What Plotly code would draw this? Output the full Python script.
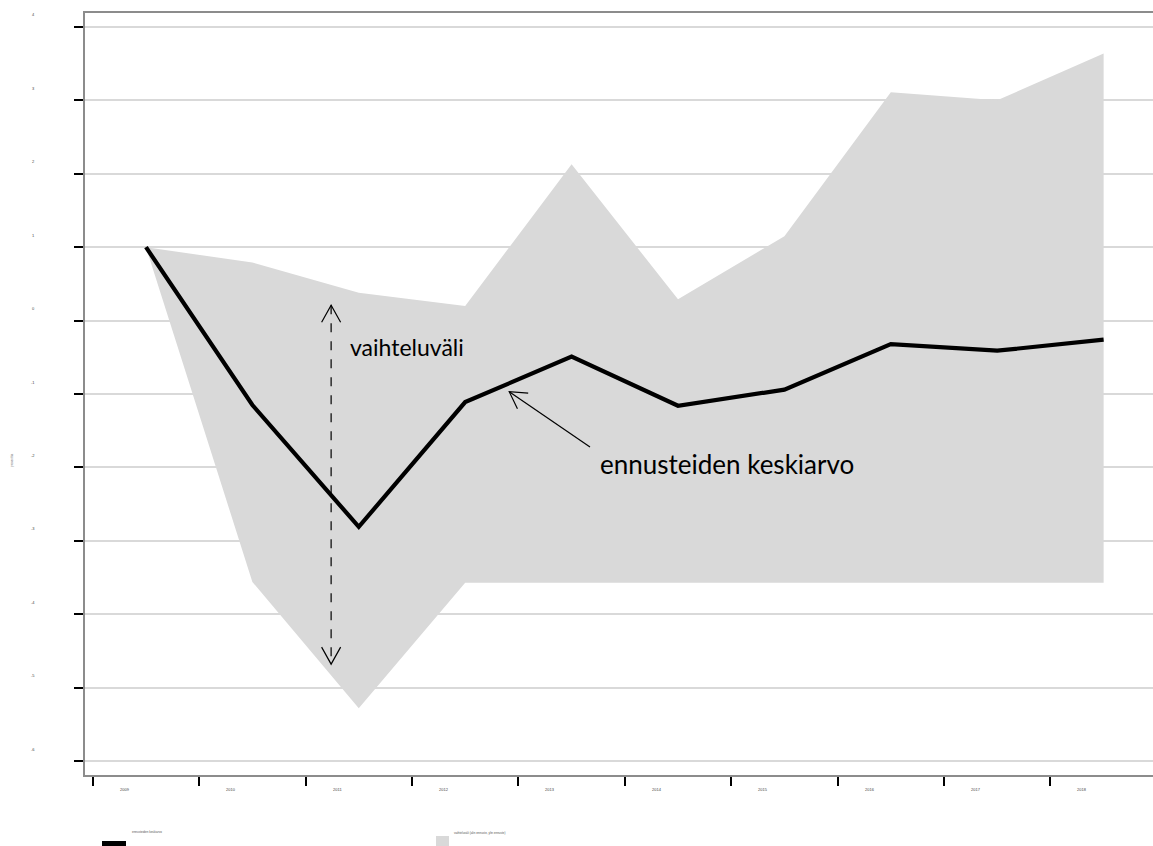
import math
import plotly.graph_objects as go

# ---- data ----
categories = ["2009", "2010", "2011", "2012", "2013", "2014", "2015", "2016", "2017", "2018"]
mean_forecast = [1.0, -1.15, -2.81, -1.11, -0.49, -1.16, -0.94, -0.32, -0.41, -0.26]
upper_forecast = [1.0, 0.79, 0.38, 0.20, 2.13, 0.29, 1.15, 3.11, 3.00, 3.64]
lower_forecast = [1.0, -3.56, -5.28, -3.57, -3.57, -3.57, -3.57, -3.57, -3.57, -3.57]
y_tick_values = [4, 3, 2, 1, 0, -1, -2, -3, -4, -5, -6]
y_tick_labels = ["4", "3", "2", "1", "0", "-1", "-2", "-3", "-4", "-5", "-6"]
y_title = "prosenttia"
legend_labels = ["ennusteiden keskiarvo", "vaihteluväli (alin ennuste, ylin ennuste)"]

# ---- layout geometry ----
W, H = 1153, 846
ML, MR, MT, MB = 85, 0, 13, 71
PW, PH = W - ML - MR, H - MT - MB
XR = [-0.573, 9.464]
YR = [-6.19, 4.19]
sx = PW / (XR[1] - XR[0])   # px per x unit
sy = PH / (YR[1] - YR[0])   # px per y unit

xs = list(range(len(categories)))
LABEL_FONT = "Lato"
TINY = dict(family="Liberation Sans", size=4, color="#444444")

fig = go.Figure()
fig.add_trace(go.Scatter(x=xs, y=lower_forecast, mode="lines",
                         line=dict(width=0, color="#d9d9d9"), showlegend=False,
                         hoverinfo="skip"))
fig.add_trace(go.Scatter(x=xs, y=upper_forecast, mode="lines", fill="tonexty",
                         fillcolor="#d9d9d9", line=dict(width=0, color="#d9d9d9"),
                         showlegend=False, name=legend_labels[1]))
fig.add_trace(go.Scatter(x=xs, y=mean_forecast, mode="lines",
                         line=dict(width=4.2, color="black"), showlegend=False,
                         name=legend_labels[0]))

shapes = []
annotations = []

# double-headed dashed arrow (range)
ax_x, ay_top, ay_bot = 1.74, 0.21, -4.68
shapes.append(dict(type="line", xref="x", yref="y", x0=ax_x, x1=ax_x, y0=ay_top, y1=ay_bot,
                   line=dict(color="black", width=1.2, dash="dash")))
dx_head = 9.5 / sx
dy_head = 17 / sy
shapes.append(dict(type="path", xref="x", yref="y",
                   path=f"M {ax_x-dx_head},{ay_top-dy_head} L {ax_x},{ay_top} L {ax_x+dx_head},{ay_top-dy_head}",
                   line=dict(color="black", width=1.2)))
shapes.append(dict(type="path", xref="x", yref="y",
                   path=f"M {ax_x-dx_head},{ay_bot+dy_head} L {ax_x},{ay_bot} L {ax_x+dx_head},{ay_bot+dy_head}",
                   line=dict(color="black", width=1.2)))

# single arrow to the mean line
tip = (3.414, -0.969)
tail = (4.173, -1.722)
shapes.append(dict(type="line", xref="x", yref="y", x0=tail[0], y0=tail[1], x1=tip[0], y1=tip[1],
                   line=dict(color="black", width=1.2)))
vx, vy = (tail[0] - tip[0]) * sx, -(tail[1] - tip[1]) * sy  # pixel vector tip->tail (screen y down)
ang = math.atan2(vy, vx)
arm = 19
pts = []
for da in (-math.radians(30), math.radians(30)):
    px = arm * math.cos(ang + da)
    py = arm * math.sin(ang + da)
    pts.append((tip[0] + px / sx, tip[1] - py / sy))
shapes.append(dict(type="path", xref="x", yref="y",
                   path=f"M {pts[0][0]},{pts[0][1]} L {tip[0]},{tip[1]} L {pts[1][0]},{pts[1][1]}",
                   line=dict(color="black", width=1.2)))

annotations.append(dict(x=1.898, y=-0.36, xref="x", yref="y", text="vaihteluväli",
                        showarrow=False, xanchor="left", yanchor="middle",
                        font=dict(family=LABEL_FONT, size=23, color="black")))
annotations.append(dict(x=4.248, y=-1.954, xref="x", yref="y", text="ennusteiden keskiarvo",
                        showarrow=False, xanchor="left", yanchor="middle",
                        font=dict(family=LABEL_FONT, size=26, color="black")))

# y tick labels (tiny, above each gridline)
for v, lab in zip(y_tick_values, y_tick_labels):
    annotations.append(dict(x=-52 / PW, y=v, xref="paper", yref="y", text=lab, showarrow=False,
                            xanchor="center", yanchor="middle", yshift=12, font=TINY))
# x tick labels (tiny)
for i, lab in enumerate(categories):
    annotations.append(dict(x=i - 0.2, y=0, xref="x", yref="paper", text=lab, showarrow=False,
                            xanchor="center", yanchor="middle", yshift=-14, font=TINY))
# y axis title
annotations.append(dict(x=-77 / PW, y=(775 - 460) / PH, xref="paper", yref="paper", text=y_title,
                        textangle=-90, showarrow=False,
                        font=dict(family="Liberation Sans", size=3, color="#777777")))


def pyp(p):
    return (H - MB - p) / PH


def pxp(p):
    return (p - ML) / PW


# legend
shapes.append(dict(type="rect", xref="paper", yref="paper", x0=pxp(102), x1=pxp(126),
                   y0=pyp(850), y1=pyp(841), fillcolor="black", line=dict(width=0)))
shapes.append(dict(type="rect", xref="paper", yref="paper", x0=pxp(436), x1=pxp(449),
                   y0=pyp(850), y1=pyp(836), fillcolor="#d9d9d9", line=dict(width=0)))
annotations.append(dict(x=pxp(130), y=pyp(832), xref="paper", yref="paper", text=legend_labels[0],
                        showarrow=False, xanchor="left", yanchor="middle",
                        font=dict(family="Liberation Sans", size=3, color="#555555")))
annotations.append(dict(x=pxp(452), y=pyp(833), xref="paper", yref="paper", text=legend_labels[1],
                        showarrow=False, xanchor="left", yanchor="middle",
                        font=dict(family="Liberation Sans", size=3, color="#555555")))

fig.update_layout(
    width=W, height=H,
    margin=dict(l=ML, r=MR, t=MT, b=MB),
    paper_bgcolor="white", plot_bgcolor="white",
    showlegend=False,
    shapes=shapes, annotations=annotations,
    xaxis=dict(range=XR, tickmode="array", tickvals=[i - 0.5 for i in xs],
               ticktext=["" for _ in xs], ticks="outside", ticklen=9, tickwidth=2,
               tickcolor="black", showgrid=False, zeroline=False,
               showline=True, linecolor="#8c8c8c", linewidth=2, mirror=True,
               showticklabels=False),
    yaxis=dict(range=YR, tickmode="array", tickvals=y_tick_values,
               ticks="outside", ticklen=9, tickwidth=2, tickcolor="black",
               showgrid=True, gridcolor="#d9d9d9", gridwidth=1.5, zeroline=False,
               showline=True, linecolor="#8c8c8c", linewidth=2,
               showticklabels=False),
)

fig.write_html(
    "out.html",
    config={"displayModeBar": False},
    post_script="document.body.style.margin='0';document.body.style.overflow='hidden';",
)
